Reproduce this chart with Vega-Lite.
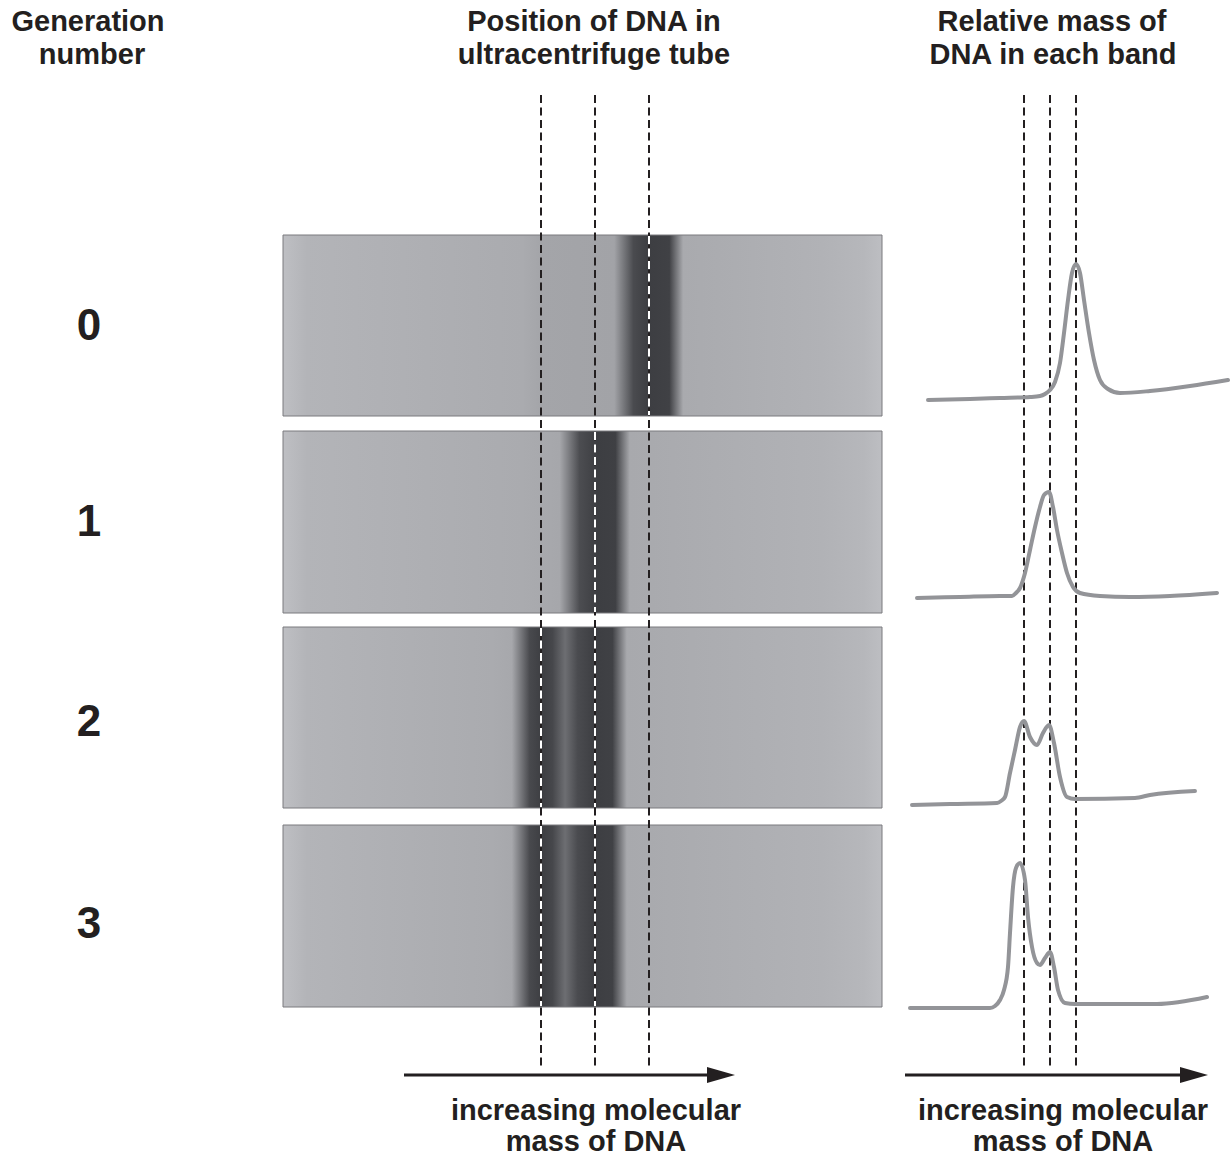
{
  "$schema": "https://vega.github.io/schema/vega-lite/v6.json",
  "width": 1231,
  "height": 1156,
  "autosize": {"type": "none"},
  "padding": 0,
  "background": "white",
  "config": {"view": {"stroke": null}},
  "datasets": {
    "tubes": [
      {"gen": 0, "left": 283, "right": 882, "top": 235, "bottom": 416},
      {"gen": 1, "left": 283, "right": 882, "top": 431, "bottom": 613},
      {"gen": 2, "left": 283, "right": 882, "top": 627, "bottom": 808},
      {"gen": 3, "left": 283, "right": 882, "top": 825, "bottom": 1007}
    ],
    "guides": [
      {"x": 541, "top": 95, "bottom": 1070},
      {"x": 595, "top": 95, "bottom": 1070},
      {"x": 649, "top": 95, "bottom": 1070},
      {"x": 1024, "top": 95, "bottom": 1070},
      {"x": 1050, "top": 95, "bottom": 1070},
      {"x": 1076, "top": 95, "bottom": 1070}
    ],
    "bandguides": [
      {"x": 649, "top": 236, "bottom": 415},
      {"x": 595, "top": 432, "bottom": 612},
      {"x": 541, "top": 628, "bottom": 807},
      {"x": 595, "top": 628, "bottom": 807},
      {"x": 541, "top": 826, "bottom": 1006},
      {"x": 595, "top": 826, "bottom": 1006}
    ],
    "curves": [
      {"gen": 0, "px": 928, "py": 400}, {"gen": 0, "px": 970, "py": 399}, {"gen": 0, "px": 1000, "py": 398}, {"gen": 0, "px": 1030, "py": 397}, {"gen": 0, "px": 1040, "py": 396}, {"gen": 0, "px": 1045, "py": 394}, {"gen": 0, "px": 1050, "py": 390}, {"gen": 0, "px": 1055, "py": 382}, {"gen": 0, "px": 1060, "py": 363}, {"gen": 0, "px": 1064, "py": 333}, {"gen": 0, "px": 1068, "py": 300}, {"gen": 0, "px": 1072, "py": 273}, {"gen": 0, "px": 1076, "py": 264}, {"gen": 0, "px": 1080, "py": 273}, {"gen": 0, "px": 1084, "py": 300}, {"gen": 0, "px": 1089, "py": 333}, {"gen": 0, "px": 1094, "py": 360}, {"gen": 0, "px": 1100, "py": 380}, {"gen": 0, "px": 1108, "py": 389}, {"gen": 0, "px": 1120, "py": 393}, {"gen": 0, "px": 1150, "py": 391}, {"gen": 0, "px": 1190, "py": 386}, {"gen": 0, "px": 1228, "py": 380},
      {"gen": 1, "px": 917, "py": 598}, {"gen": 1, "px": 960, "py": 597}, {"gen": 1, "px": 1000, "py": 596}, {"gen": 1, "px": 1012, "py": 596}, {"gen": 1, "px": 1016, "py": 593}, {"gen": 1, "px": 1020, "py": 588}, {"gen": 1, "px": 1025, "py": 573}, {"gen": 1, "px": 1030, "py": 550}, {"gen": 1, "px": 1035, "py": 527}, {"gen": 1, "px": 1040, "py": 507}, {"gen": 1, "px": 1044, "py": 495}, {"gen": 1, "px": 1049, "py": 492}, {"gen": 1, "px": 1053, "py": 507}, {"gen": 1, "px": 1057, "py": 530}, {"gen": 1, "px": 1062, "py": 553}, {"gen": 1, "px": 1067, "py": 573}, {"gen": 1, "px": 1073, "py": 587}, {"gen": 1, "px": 1080, "py": 593}, {"gen": 1, "px": 1100, "py": 596}, {"gen": 1, "px": 1130, "py": 597}, {"gen": 1, "px": 1170, "py": 596}, {"gen": 1, "px": 1217, "py": 593},
      {"gen": 2, "px": 912, "py": 805}, {"gen": 2, "px": 950, "py": 804}, {"gen": 2, "px": 997, "py": 803}, {"gen": 2, "px": 1001, "py": 801}, {"gen": 2, "px": 1005, "py": 797}, {"gen": 2, "px": 1010, "py": 773}, {"gen": 2, "px": 1015, "py": 750}, {"gen": 2, "px": 1020, "py": 727}, {"gen": 2, "px": 1024, "py": 721}, {"gen": 2, "px": 1030, "py": 737}, {"gen": 2, "px": 1037, "py": 745}, {"gen": 2, "px": 1043, "py": 733}, {"gen": 2, "px": 1049, "py": 725}, {"gen": 2, "px": 1054, "py": 743}, {"gen": 2, "px": 1060, "py": 777}, {"gen": 2, "px": 1067, "py": 797}, {"gen": 2, "px": 1075, "py": 799}, {"gen": 2, "px": 1135, "py": 798}, {"gen": 2, "px": 1150, "py": 795}, {"gen": 2, "px": 1195, "py": 791},
      {"gen": 3, "px": 910, "py": 1008}, {"gen": 3, "px": 950, "py": 1008}, {"gen": 3, "px": 990, "py": 1008}, {"gen": 3, "px": 995, "py": 1006}, {"gen": 3, "px": 1000, "py": 1000}, {"gen": 3, "px": 1004, "py": 990}, {"gen": 3, "px": 1008, "py": 967}, {"gen": 3, "px": 1010, "py": 933}, {"gen": 3, "px": 1013, "py": 887}, {"gen": 3, "px": 1016, "py": 868}, {"gen": 3, "px": 1020, "py": 863}, {"gen": 3, "px": 1025, "py": 880}, {"gen": 3, "px": 1028, "py": 917}, {"gen": 3, "px": 1032, "py": 947}, {"gen": 3, "px": 1037, "py": 963}, {"gen": 3, "px": 1040, "py": 965}, {"gen": 3, "px": 1045, "py": 958}, {"gen": 3, "px": 1050, "py": 952}, {"gen": 3, "px": 1054, "py": 967}, {"gen": 3, "px": 1058, "py": 990}, {"gen": 3, "px": 1065, "py": 1003}, {"gen": 3, "px": 1075, "py": 1004}, {"gen": 3, "px": 1157, "py": 1004}, {"gen": 3, "px": 1207, "py": 997}
    ],
    "arrows": [
      {"start": 404, "end": 712, "tip": 721, "y": 1075},
      {"start": 905, "end": 1187, "tip": 1194, "y": 1075}
    ],
    "headings": [
      {"text": "Generation", "x": 88, "y": 31},
      {"text": "number", "x": 92, "y": 64},
      {"text": "Position of DNA in", "x": 594, "y": 31},
      {"text": "ultracentrifuge tube", "x": 594, "y": 64},
      {"text": "Relative mass of", "x": 1052, "y": 31},
      {"text": "DNA in each band", "x": 1053, "y": 64},
      {"text": "increasing molecular", "x": 596, "y": 1120},
      {"text": "mass of DNA", "x": 596, "y": 1151},
      {"text": "increasing molecular", "x": 1063, "y": 1120},
      {"text": "mass of DNA", "x": 1063, "y": 1151}
    ],
    "gennum": [
      {"text": "0", "x": 89, "y": 340},
      {"text": "1", "x": 89, "y": 536},
      {"text": "2", "x": 89, "y": 736},
      {"text": "3", "x": 89, "y": 938}
    ]
  },
  "layer": [
    {
      "data": {"name": "tubes"},
      "transform": [{"filter": "datum.gen == 0"}],
      "mark": {"type": "rect", "stroke": "#7a7b7f", "strokeWidth": 1,
        "fill": {"gradient": "linear", "x1": 0, "y1": 0, "x2": 1, "y2": 0, "stops": [
          {"offset": 0, "color": "#bebfc3"}, {"offset": 0.04, "color": "#b3b4b8"}, {"offset": 0.4, "color": "#aaabaf"},
          {"offset": 0.43, "color": "#a4a5a9"}, {"offset": 0.553, "color": "#a2a3a7"}, {"offset": 0.585, "color": "#4a4b4f"},
          {"offset": 0.61, "color": "#3d3e42"}, {"offset": 0.645, "color": "#404145"}, {"offset": 0.668, "color": "#a9aaae"},
          {"offset": 0.9, "color": "#b1b2b6"}, {"offset": 0.97, "color": "#b6b7bb"}, {"offset": 1, "color": "#bdbec2"}]}},
      "encoding": {
        "x": {"field": "left", "type": "quantitative", "scale": {"domain": [0, 1231], "nice": false, "zero": false}, "axis": null},
        "x2": {"field": "right"},
        "y": {"field": "top", "type": "quantitative", "scale": {"domain": [0, 1156], "nice": false, "zero": false, "reverse": true}, "axis": null},
        "y2": {"field": "bottom"}
      }
    },
    {
      "data": {"name": "tubes"},
      "transform": [{"filter": "datum.gen == 1"}],
      "mark": {"type": "rect", "stroke": "#7a7b7f", "strokeWidth": 1,
        "fill": {"gradient": "linear", "x1": 0, "y1": 0, "x2": 1, "y2": 0, "stops": [
          {"offset": 0, "color": "#bebfc3"}, {"offset": 0.04, "color": "#b3b4b8"}, {"offset": 0.4, "color": "#aaabaf"},
          {"offset": 0.462, "color": "#a6a7ab"}, {"offset": 0.495, "color": "#4c4d51"}, {"offset": 0.525, "color": "#3d3e42"},
          {"offset": 0.555, "color": "#3f4044"}, {"offset": 0.579, "color": "#a8a9ad"},
          {"offset": 0.9, "color": "#b1b2b6"}, {"offset": 0.97, "color": "#b6b7bb"}, {"offset": 1, "color": "#bdbec2"}]}},
      "encoding": {
        "x": {"field": "left", "type": "quantitative", "axis": null},
        "x2": {"field": "right"},
        "y": {"field": "top", "type": "quantitative", "axis": null},
        "y2": {"field": "bottom"}
      }
    },
    {
      "data": {"name": "tubes"},
      "transform": [{"filter": "datum.gen >= 2"}],
      "mark": {"type": "rect", "stroke": "#7a7b7f", "strokeWidth": 1,
        "fill": {"gradient": "linear", "x1": 0, "y1": 0, "x2": 1, "y2": 0, "stops": [
          {"offset": 0, "color": "#bebfc3"}, {"offset": 0.04, "color": "#b3b4b8"}, {"offset": 0.35, "color": "#aaabaf"},
          {"offset": 0.382, "color": "#a7a8ac"}, {"offset": 0.412, "color": "#48494d"}, {"offset": 0.432, "color": "#3d3e42"},
          {"offset": 0.45, "color": "#46474b"}, {"offset": 0.471, "color": "#6d6e72"}, {"offset": 0.492, "color": "#4a4b4f"},
          {"offset": 0.521, "color": "#3d3e42"}, {"offset": 0.55, "color": "#404145"}, {"offset": 0.574, "color": "#a8a9ad"},
          {"offset": 0.9, "color": "#b1b2b6"}, {"offset": 0.97, "color": "#b6b7bb"}, {"offset": 1, "color": "#bdbec2"}]}},
      "encoding": {
        "x": {"field": "left", "type": "quantitative", "axis": null},
        "x2": {"field": "right"},
        "y": {"field": "top", "type": "quantitative", "axis": null},
        "y2": {"field": "bottom"}
      }
    },
    {
      "data": {"name": "guides"},
      "mark": {"type": "rule", "color": "#231f20", "strokeWidth": 2, "strokeDash": [8, 4.5]},
      "encoding": {
        "x": {"field": "x", "type": "quantitative"},
        "y": {"field": "top", "type": "quantitative"},
        "y2": {"field": "bottom"}
      }
    },
    {
      "data": {"name": "bandguides"},
      "mark": {"type": "rule", "color": "#ffffff", "strokeWidth": 2, "strokeDash": [8, 4.5]},
      "encoding": {
        "x": {"field": "x", "type": "quantitative"},
        "y": {"field": "top", "type": "quantitative"},
        "y2": {"field": "bottom"}
      }
    },
    {
      "data": {"name": "curves"},
      "mark": {"type": "line", "color": "#939498", "strokeWidth": 4, "interpolate": "monotone", "strokeCap": "round"},
      "encoding": {
        "x": {"field": "px", "type": "quantitative"},
        "y": {"field": "py", "type": "quantitative"},
        "detail": {"field": "gen", "type": "nominal"}
      }
    },
    {
      "data": {"name": "arrows"},
      "mark": {"type": "rule", "color": "#231f20", "strokeWidth": 3},
      "encoding": {
        "x": {"field": "start", "type": "quantitative"},
        "x2": {"field": "end"},
        "y": {"field": "y", "type": "quantitative"}
      }
    },
    {
      "data": {"name": "arrows"},
      "mark": {"type": "point", "shape": "M-1,-0.57L1,0L-1,0.57Z", "filled": true, "color": "#231f20", "opacity": 1, "size": 784},
      "encoding": {
        "x": {"field": "tip", "type": "quantitative"},
        "y": {"field": "y", "type": "quantitative"}
      }
    },
    {
      "data": {"name": "headings"},
      "mark": {"type": "text", "font": "Liberation Sans", "fontWeight": "bold", "fontSize": 29, "color": "#231f20", "align": "center", "baseline": "alphabetic"},
      "encoding": {
        "x": {"field": "x", "type": "quantitative"},
        "y": {"field": "y", "type": "quantitative"},
        "text": {"field": "text"}
      }
    },
    {
      "data": {"name": "gennum"},
      "mark": {"type": "text", "font": "Liberation Sans", "fontWeight": "bold", "fontSize": 44, "color": "#231f20", "align": "center", "baseline": "alphabetic"},
      "encoding": {
        "x": {"field": "x", "type": "quantitative"},
        "y": {"field": "y", "type": "quantitative"},
        "text": {"field": "text"}
      }
    }
  ]
}
